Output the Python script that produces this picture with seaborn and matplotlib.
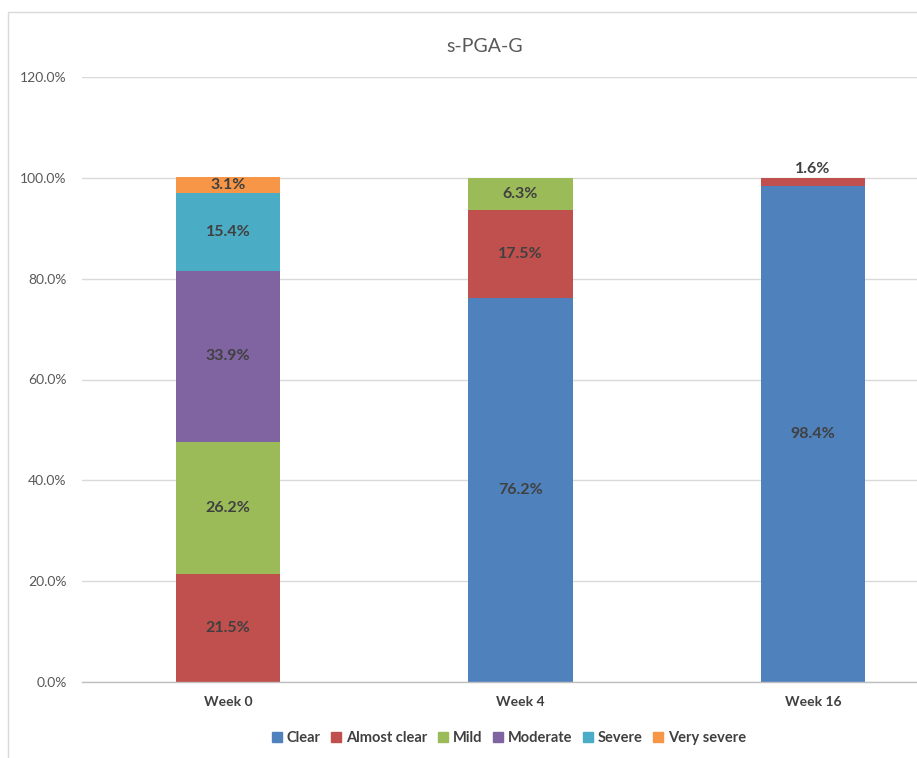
import matplotlib
matplotlib.use("Agg")
import matplotlib.pyplot as plt
from matplotlib.lines import Line2D
from matplotlib.patches import Rectangle
import numpy as np
import pandas as pd
import seaborn as sns

# Share of patients per s-PGA-G grade at each visit (%)
weeks = ["Week 0", "Week 4", "Week 16"]
grades = ["Clear", "Almost clear", "Mild", "Moderate", "Severe", "Very severe"]
clear = [0.0, 76.2, 98.4]
almost_clear = [21.5, 17.5, 1.6]
mild = [26.2, 6.3, 0.0]
moderate = [33.9, 0.0, 0.0]
severe = [15.4, 0.0, 0.0]
very_severe = [3.1, 0.0, 0.0]
yticks = [0, 20, 40, 60, 80, 100, 120]

colors = ["#4F81BD", "#C0504D", "#9BBB59", "#8064A2", "#4BACC6", "#F79646"]
series = [clear, almost_clear, mild, moderate, severe, very_severe]

sns.set_theme(style="white")
plt.rcParams["font.family"] = ["Lato", "DejaVu Sans"]

W, H = 917, 758
fig = plt.figure(figsize=(W / 100, H / 100), dpi=100)

# chart-area frame
fig.patches.append(Rectangle((8 / W, -0.05), 1.2, (H - 12) / H + 0.05,
                             transform=fig.transFigure, fill=False,
                             edgecolor="#D9D9D9", linewidth=1.0))

left, right, bottom, top = 82, 959, 682, 77
ax = fig.add_axes([left / W, (H - bottom) / H, (right - left) / W, (bottom - top) / H])

vals = np.array(series)            # grades x weeks
cum = np.cumsum(vals, axis=0)
lower = cum - vals

# draw stacked layers from the top down so lower segments sit in front
for i in range(len(grades) - 1, -1, -1):
    heights = np.where(vals[i] > 0, cum[i], 0.0)
    df = pd.DataFrame({"week": weeks, "pct": heights})
    sns.barplot(data=df, x="week", y="pct", order=weeks, color=colors[i],
                width=0.356, saturation=1, ax=ax, linewidth=0, zorder=2)

ax.set_xlim(-0.5, 2.5)
ax.set_ylim(0, 120)
ax.set_yticks(yticks)
ax.set_yticklabels([f"{t:.1f}%" for t in yticks])
ax.set_xlabel("")
ax.set_ylabel("")
ax.yaxis.grid(True, color="#D9D9D9", linewidth=1.0, zorder=0)
ax.set_axisbelow(True)
for s in ["left", "right", "top"]:
    ax.spines[s].set_visible(False)
ax.spines["bottom"].set_color("#BFBFBF")
ax.spines["bottom"].set_linewidth(1.0)
ax.tick_params(axis="y", length=0, pad=11, labelsize=10, labelcolor="#595959")
ax.tick_params(axis="x", length=0, pad=10, labelsize=10, labelcolor="#404040")
for lab in ax.get_xticklabels():
    lab.set_fontweight("bold")

# value labels
for i in range(len(grades)):
    for j in range(len(weeks)):
        v = vals[i, j]
        if v <= 0:
            continue
        y = lower[i, j] + v / 2
        if v < 2:
            y = cum[i, j] + 1.8
        ax.text(j, y, f"{v:.1f}%", ha="center", va="center", fontsize=11.5,
                fontweight="bold", color="#404040", zorder=5)

fig.text(485 / W, (H - 46) / H, "s-PGA-G", ha="center", va="center",
         fontsize=14, color="#595959")

handles = [Line2D([0], [0], marker="s", linestyle="", markersize=7,
                  markerfacecolor=c, markeredgecolor=c) for c in colors]
leg = fig.legend(handles, grades, loc="center", bbox_to_anchor=(509 / W, (H - 738) / H),
                 ncol=6, frameon=False, handlelength=0.7, handletextpad=0.35,
                 columnspacing=0.7, prop={"size": 10.5, "weight": "bold"})
for t in leg.get_texts():
    t.set_color("#404040")

fig.savefig("out.png", dpi=100)
